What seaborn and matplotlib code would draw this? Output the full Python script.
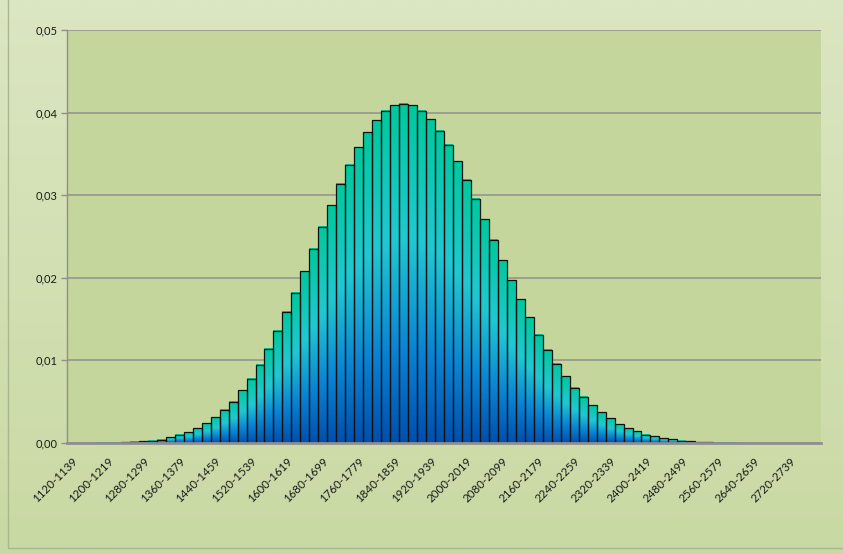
import numpy as np
import pandas as pd
import seaborn as sns
import matplotlib.pyplot as plt
from matplotlib.colors import LinearSegmentedColormap
from matplotlib.patches import Rectangle
from matplotlib.ticker import FuncFormatter

# rating bins (width 20) and their relative frequency
bin_starts = list(range(1120, 2800, 20))
bins = [f"{s}-{s + 19}" for s in bin_starts]
density = [
    0.0, 0.0, 0.0, 0.00001, 0.00003, 0.00005, 0.0001, 0.00015, 0.0002, 0.0003,
    0.0004, 0.0007, 0.0010, 0.0013, 0.0018, 0.0024, 0.0031, 0.0040, 0.0050, 0.0064,
    0.0078, 0.0095, 0.0114, 0.0136, 0.0159, 0.0182, 0.0208, 0.0235, 0.0262, 0.0288,
    0.0314, 0.0337, 0.0358, 0.0376, 0.0391, 0.0402, 0.0409, 0.0411, 0.0409, 0.0402,
    0.0392, 0.0378, 0.0361, 0.0341, 0.0319, 0.0296, 0.0271, 0.0246, 0.0221, 0.0197,
    0.0174, 0.0152, 0.0131, 0.0113, 0.0096, 0.0081, 0.0067, 0.0056, 0.0046, 0.0037,
    0.0030, 0.0023, 0.0018, 0.0014, 0.0010, 0.0008, 0.0006, 0.00045, 0.0003, 0.0002,
    0.00012, 0.00008, 0.00005, 0.00003, 0.00002, 0.0, 0.0, 0.0, 0.0, 0.0,
    0.0, 0.0, 0.0, 0.0,
]
y_ticks = [0.0, 0.01, 0.02, 0.03, 0.04, 0.05]

df = pd.DataFrame({"bin": bins, "density": density})

sns.set_style("white")
plt.rcParams["font.family"] = ["Lato", "DejaVu Sans"]

fig = plt.figure(figsize=(8.43, 5.54), dpi=100)

# chart-area background gradient
bg = fig.add_axes([0, 0, 1, 1], zorder=-5)
bg.imshow(np.linspace(0, 1, 256).reshape(-1, 1), aspect="auto",
          cmap=LinearSegmentedColormap.from_list("bg", ["#dbe6c2", "#c9d9a3"]),
          extent=[0, 1, 0, 1], origin="upper")
bg.set_axis_off()
fig.patches.append(Rectangle((8 / 843, 6 / 554), 1.0, 1.0, transform=fig.transFigure,
                             fill=False, edgecolor="#a9b78f", linewidth=1.0, zorder=-4))

ax = fig.add_axes([67 / 843, 1 - 443 / 554, (821 - 67) / 843, (443 - 30) / 554])
ax.set_facecolor("#c4d69b")

sns.barplot(data=df, x="bin", y="density", width=1.0, color="white",
            edgecolor="#111111", linewidth=0.9, ax=ax, zorder=3)

# Excel-like vertical gradient inside every bar
bar_cmap = LinearSegmentedColormap.from_list(
    "bars", [(0.0, "#004fae"), (0.28, "#0a84d4"), (0.6, "#20c8d2"), (1.0, "#00c89c")])
grad = np.linspace(0, 1, 256).reshape(-1, 1)
for p in ax.patches:
    h = p.get_height()
    if h <= 0:
        p.set_visible(False)
        continue
    x0 = p.get_x()
    w = p.get_width()
    p.set_facecolor("none")
    p.set_zorder(4)
    ax.imshow(grad, cmap=bar_cmap, origin="lower", aspect="auto",
              extent=[x0, x0 + w, 0, h], zorder=3, interpolation="bilinear")

ax.set_xlim(-0.5, len(bins) - 0.5)
ax.set_ylim(0, 0.05)
ax.set_yticks(y_ticks)
ax.yaxis.set_major_formatter(FuncFormatter(lambda v, _: f"{v:.2f}".replace(".", ",")))
ax.yaxis.grid(True, color="#979b8e", linewidth=1.3, zorder=0)
ax.set_axisbelow(True)

ax.set_xticks(range(len(bins)))
ax.set_xticklabels([b if i % 4 == 0 else "" for i, b in enumerate(bins)],
                   rotation=45, ha="right", rotation_mode="anchor")
ax.tick_params(axis="x", direction="in", length=3.5, width=1, color="#8f8f8f",
               labelsize=8.3, pad=9, labelcolor="#1a1a1a")
ax.tick_params(axis="y", direction="out", length=4, width=1, color="#8f8f8f",
               labelsize=8, pad=3, labelcolor="#1a1a1a", left=True)
ax.set_xlabel("")
ax.set_ylabel("")

sns.despine(ax=ax, top=True, right=True)
ax.spines["left"].set_color("#8f8f8f")
ax.spines["left"].set_linewidth(1.0)
ax.spines["bottom"].set_color("#8f8f8f")
ax.spines["bottom"].set_linewidth(2.0)
ax.spines["bottom"].set_zorder(6)

fig.savefig("out.png", dpi=100)
